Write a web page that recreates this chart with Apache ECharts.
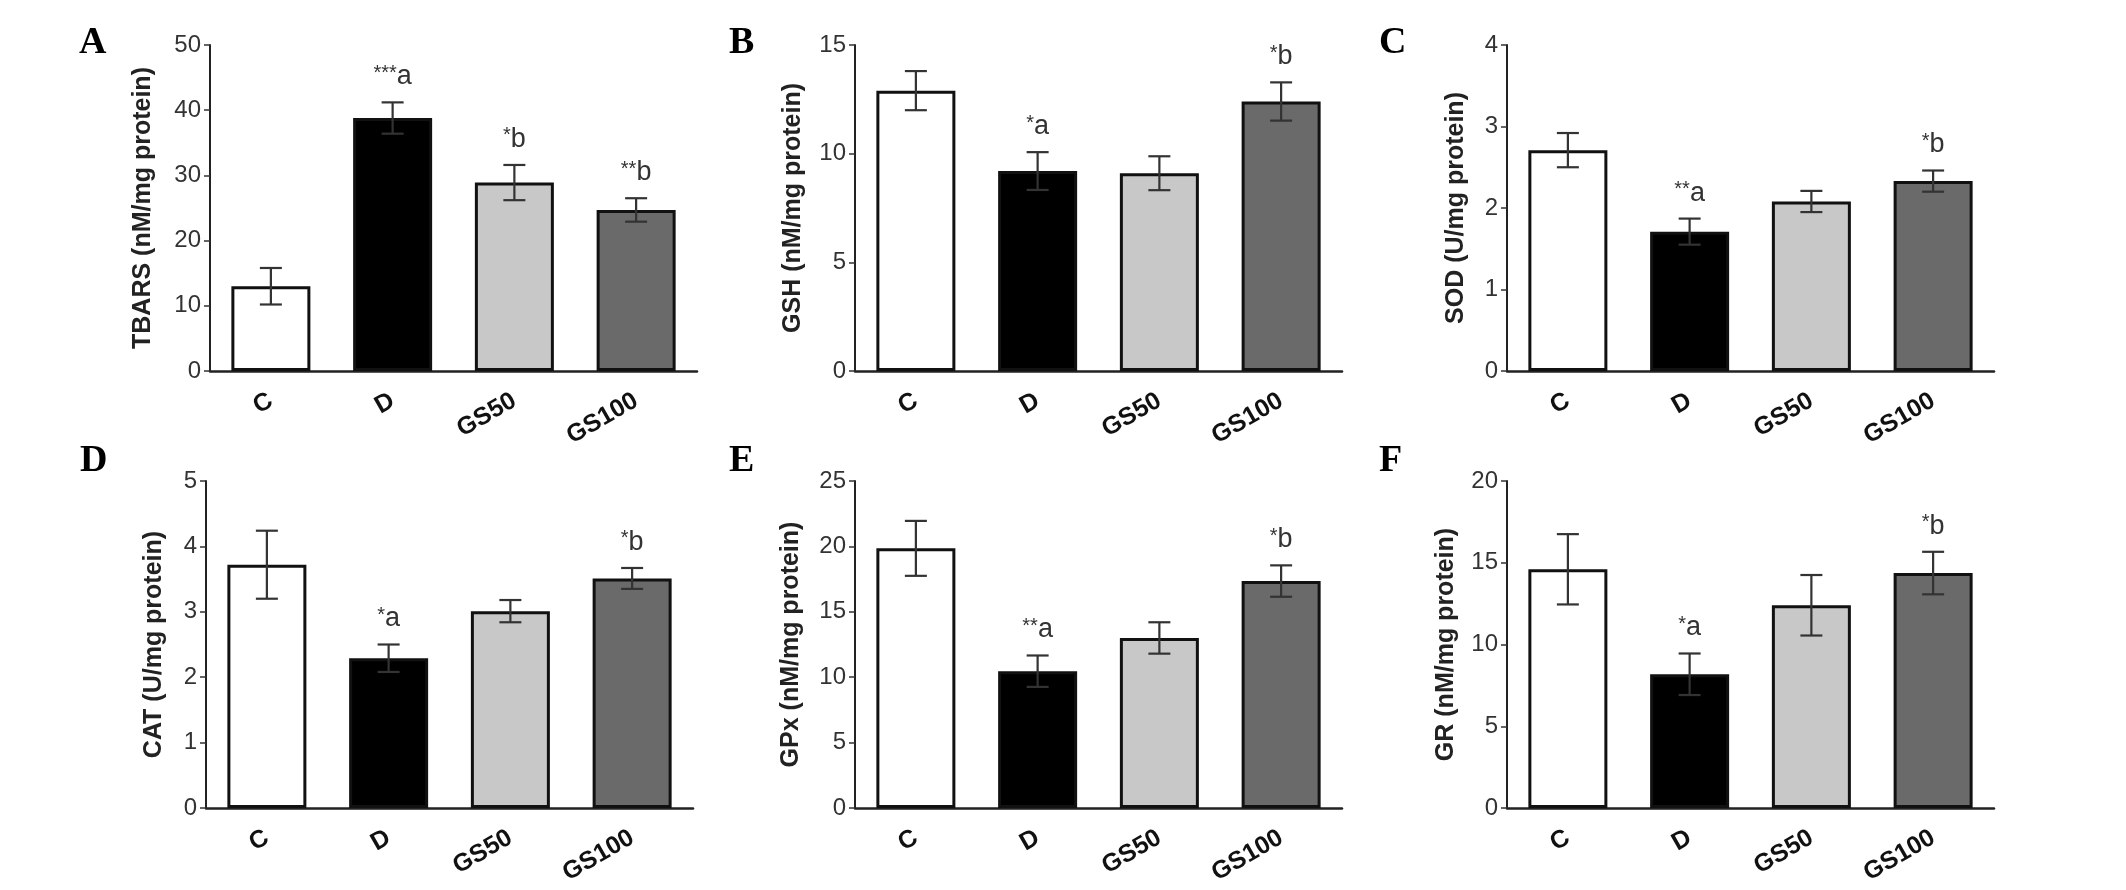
<!DOCTYPE html>
<html>
<head>
<meta charset="utf-8">
<script src="https://cdn.jsdelivr.net/npm/echarts@6/dist/echarts.min.js"></script>
<style>
html,body{margin:0;padding:0;background:#fff;}
#chart{width:2126px;height:890px;}
</style>
</head>
<body>
<div id="chart"></div>
<script>
// ---------- data ----------
const categories = ['C', 'D', 'GS50', 'GS100'];

const tbarsMean = [13.0, 38.8, 28.9, 24.7];
const tbarsErr  = [2.8, 2.4, 2.7, 1.8];
const tbarsMarks = ['', '***a', '*b', '**b'];

const gshMean = [12.9, 9.2, 9.1, 12.4];
const gshErr  = [0.9, 0.87, 0.78, 0.88];
const gshMarks = ['', '*a', '', '*b'];

const sodMean = [2.71, 1.71, 2.08, 2.33];
const sodErr  = [0.21, 0.16, 0.13, 0.13];
const sodMarks = ['', '**a', '', '*b'];

const catMean = [3.72, 2.29, 3.01, 3.51];
const catErr  = [0.52, 0.21, 0.17, 0.16];
const catMarks = ['', '*a', '', '*b'];

const gpxMean = [19.85, 10.46, 13.0, 17.35];
const gpxErr  = [2.1, 1.2, 1.2, 1.2];
const gpxMarks = ['', '**a', '', '*b'];

const grMean = [14.6, 8.18, 12.4, 14.37];
const grErr  = [2.15, 1.27, 1.85, 1.3];
const grMarks = ['', '*a', '', '*b'];

const yMax      = [50, 15, 4, 5, 25, 20];
const yInterval = [10, 5, 1, 1, 5, 5];
const yNames = ['TBARS (nM/mg protein)', 'GSH (nM/mg protein)', 'SOD (U/mg protein)',
                'CAT (U/mg protein)', 'GPx (nM/mg protein)', 'GR (nM/mg protein)'];
const panelLetters = ['A', 'B', 'C', 'D', 'E', 'F'];

// ---------- style / layout ----------
const barColors = ['#ffffff', '#000000', '#c8c8c8', '#6a6a6a'];
const FONT = 'Liberation Sans, Arial, sans-serif';
const gridsPos = [
  {left: 210, top: 45, width: 487, height: 326},
  {left: 855, top: 45, width: 487, height: 326},
  {left: 1507, top: 45, width: 487, height: 326},
  {left: 206, top: 481, width: 487, height: 327},
  {left: 855, top: 481, width: 487, height: 327},
  {left: 1507, top: 481, width: 487, height: 327}
];
const nameGaps = [54, 49, 38, 39, 51, 48];
const letterPos = [[79, 24], [729, 24], [1379, 24], [80, 442], [729, 442], [1379, 442]];

const means = [tbarsMean, gshMean, sodMean, catMean, gpxMean, grMean];
const errs  = [tbarsErr, gshErr, sodErr, catErr, gpxErr, grErr];
const marks = [tbarsMarks, gshMarks, sodMarks, catMarks, gpxMarks, grMarks];

const grid = [], xAxis = [], yAxis = [], series = [], graphic = [];

for (let p = 0; p < 6; p++) {
  grid.push(Object.assign({containLabel: false}, gridsPos[p]));
  xAxis.push({
    type: 'category', gridIndex: p, data: categories,
    axisLine: {lineStyle: {color: '#222', width: 2.5}},
    axisTick: {alignWithLabel: true, length: 6, lineStyle: {color: '#555', width: 2}},
    axisLabel: {rotate: 30, margin: 28, fontSize: 25, fontWeight: 'bold', color: '#111', fontFamily: FONT}
  });
  yAxis.push({
    type: 'value', gridIndex: p, min: 0, max: yMax[p], interval: yInterval[p],
    name: yNames[p], nameLocation: 'middle', nameGap: nameGaps[p],
    nameTextStyle: {fontSize: 25, fontWeight: 'bold', color: '#222', fontFamily: FONT},
    axisLine: {show: true, lineStyle: {color: '#222', width: 2}},
    axisTick: {show: true, length: 6, lineStyle: {color: '#333', width: 1.5}},
    axisLabel: {fontSize: 24, color: '#333', margin: 9, fontFamily: FONT},
    splitLine: {show: false}
  });
  series.push({
    type: 'bar', xAxisIndex: p, yAxisIndex: p, barWidth: 79,
    data: means[p].map((v, i) => ({value: v, itemStyle: {color: barColors[i]}})),
    itemStyle: {borderColor: '#111', borderWidth: 3},
    z: 2, silent: true
  });
  const pm = marks[p];
  series.push({
    type: 'custom', xAxisIndex: p, yAxisIndex: p, z: 5, clip: false, silent: true,
    data: means[p].map((v, i) => [i, v, errs[p][i]]),
    encode: {x: 0, y: 1},
    renderItem: function (params, api) {
      const i = api.value(0), m = api.value(1), e = api.value(2);
      const top = api.coord([i, m + e]);
      const bot = api.coord([i, m - e]);
      const x = top[0], hw = 11;
      const ls = {stroke: '#333', lineWidth: 2.2};
      const children = [
        {type: 'line', shape: {x1: x, y1: top[1], x2: x, y2: bot[1]}, style: ls},
        {type: 'line', shape: {x1: x - hw, y1: top[1], x2: x + hw, y2: top[1]}, style: ls},
        {type: 'line', shape: {x1: x - hw, y1: bot[1], x2: x + hw, y2: bot[1]}, style: ls}
      ];
      const mk = pm[params.dataIndex];
      if (mk) {
        const stars = mk.replace(/[^*]/g, '');
        const letter = mk.replace(/\*/g, '');
        children.push({
          type: 'text', x: x, y: top[1] - 12,
          style: {
            text: '{s|' + stars + '}{l|' + letter + '}',
            align: 'center', verticalAlign: 'bottom',
            rich: {
              s: {fontSize: 20, verticalAlign: 'top', fill: '#333', fontFamily: FONT},
              l: {fontSize: 27, fill: '#333', fontFamily: FONT}
            }
          }
        });
      }
      return {type: 'group', children: children};
    }
  });
  graphic.push({
    type: 'text', left: letterPos[p][0], top: letterPos[p][1],
    style: {text: panelLetters[p], font: 'bold 38px "Liberation Serif", "Times New Roman", serif', fill: '#000'}
  });
}

const chart = echarts.init(document.getElementById('chart'), null, {renderer: 'canvas'});
chart.setOption({
  backgroundColor: '#ffffff',
  animation: false,
  grid: grid, xAxis: xAxis, yAxis: yAxis, series: series, graphic: graphic
});
</script>
</body>
</html>
